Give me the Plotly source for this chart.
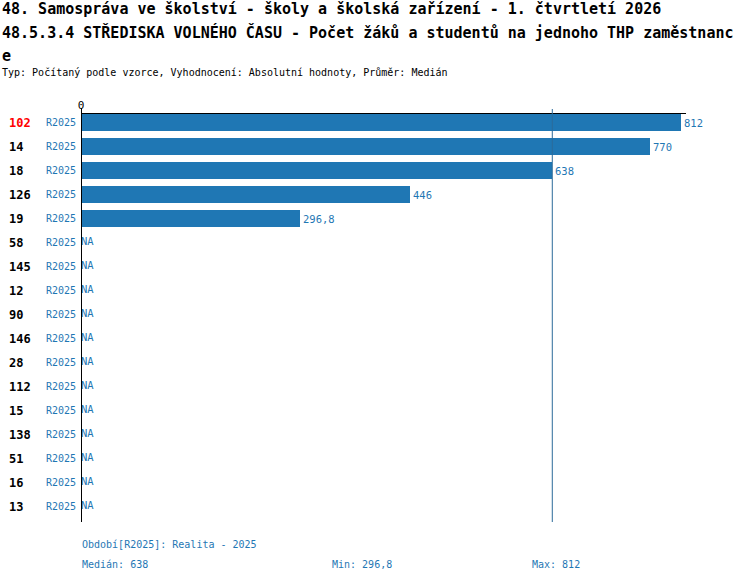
import plotly.graph_objects as go

# data
regions = ["102", "14", "18", "126", "19", "58", "145", "12", "90",
           "146", "28", "112", "15", "138", "51", "16", "13"]
values = [812, 770, 638, 446, 296.8] + [None] * 12
period = "R2025"
highlight = "102"
median_val = 638
min_val = 296.8
max_val = 812

BLUE = "#1f77b4"
MONO = "DejaVu Sans Mono"

# plot area in page pixels (body margin is removed below)
L, R, T, B = 81, 686, 114, 522
W, H = R - L, B - T


def px(x):
    return (x - L) / W


def py(y):
    return (B - y) / H


def fmt(v):
    return f"{v:g}".replace(".", ",")


pos = list(range(len(regions)))
fig = go.Figure()

fig.add_trace(go.Bar(
    y=pos, x=values, orientation="h", width=0.667,
    marker=dict(color=BLUE, line=dict(width=0)),
    text=[fmt(v) if v is not None else "" for v in values],
    textposition="outside", constraintext="none", cliponaxis=False,
    textfont=dict(family=MONO, size=10.5, color=BLUE),
    hoverinfo="skip", showlegend=False,
))

na_pos = [p for p, v in zip(pos, values) if v is None]
fig.add_trace(go.Scatter(
    y=na_pos, x=[0] * len(na_pos), mode="text", text=["NA"] * len(na_pos),
    textposition="middle right", cliponaxis=False,
    textfont=dict(family=MONO, size=10.5, color=BLUE),
    hoverinfo="skip", showlegend=False,
))

ann = []
for p, r in zip(pos, regions):
    ann.append(dict(x=px(7), y=p, xref="paper", yref="y", text=f"<b>{r}</b>",
                    xanchor="left", yanchor="middle", showarrow=False,
                    font=dict(family=MONO, size=12,
                              color="red" if r == highlight else "black")))
    ann.append(dict(x=px(78), y=p, xref="paper", yref="y", text=period,
                    xanchor="right", yanchor="middle", showarrow=False,
                    font=dict(family=MONO, size=10, color=BLUE)))

title_lines = [
    (9, "48. Samospráva ve školství - školy a školská zařízení - 1. čtvrtletí 2026"),
    (32, "48.5.3.4 STŘEDISKA VOLNÉHO ČASU - Počet žáků a studentů na jednoho THP zaměstnanc"),
    (56, "e"),
]
for y, t in title_lines:
    ann.append(dict(x=px(0), y=py(y), xref="paper", yref="paper", text=f"<b>{t}</b>",
                    xanchor="left", yanchor="middle", showarrow=False,
                    font=dict(family=MONO, size=15, color="black")))
ann.append(dict(x=px(0), y=py(73), xref="paper", yref="paper",
                text="Typ: Počítaný podle vzorce, Vyhodnocení: Absolutní hodnoty, Průměr: Medián",
                xanchor="left", yanchor="middle", showarrow=False,
                font=dict(family=MONO, size=10, color="black")))

footer = [
    (80, 544, f"Období[{period}]: Realita - 2025"),
    (80, 564, f"Medián: {fmt(median_val)}"),
    (330, 564, f"Min: {fmt(min_val)}"),
    (530, 564, f"Max: {fmt(max_val)}"),
]
for x, y, t in footer:
    ann.append(dict(x=px(x), y=py(y), xref="paper", yref="paper", text=t,
                    xanchor="left", yanchor="middle", showarrow=False,
                    font=dict(family=MONO, size=10, color=BLUE)))

shapes = [
    dict(type="line", xref="x", yref="paper", x0=median_val, x1=median_val,
         y0=0, y1=py(109), line=dict(color="#2c6a9a", width=1)),
    dict(type="line", xref="x", yref="paper", x0=0, x1=0,
         y0=0, y1=py(108), line=dict(color="black", width=2)),
]

fig.update_layout(
    width=750, height=582,
    margin=dict(l=L, r=750 - R, t=T, b=582 - B),
    paper_bgcolor="white", plot_bgcolor="white",
    separators=", ",
    font=dict(family=MONO),
    xaxis=dict(side="top", range=[0, 819], tickvals=[0], ticktext=["0"],
               showgrid=False, zeroline=False, showline=True, linecolor="black",
               linewidth=1, ticks="", tickfont=dict(family=MONO, size=11, color="black")),
    yaxis=dict(range=[16.646, -0.354], showgrid=False, zeroline=False,
               showline=False, showticklabels=False, ticks=""),
    annotations=ann, shapes=shapes,
    bargap=0,
)

# drop the default 8px body margin so the figure sits at the page corner
fig.write_html("out.html", config={"displayModeBar": False},
               post_script="document.body.style.margin='0';document.body.style.overflow='hidden';")
